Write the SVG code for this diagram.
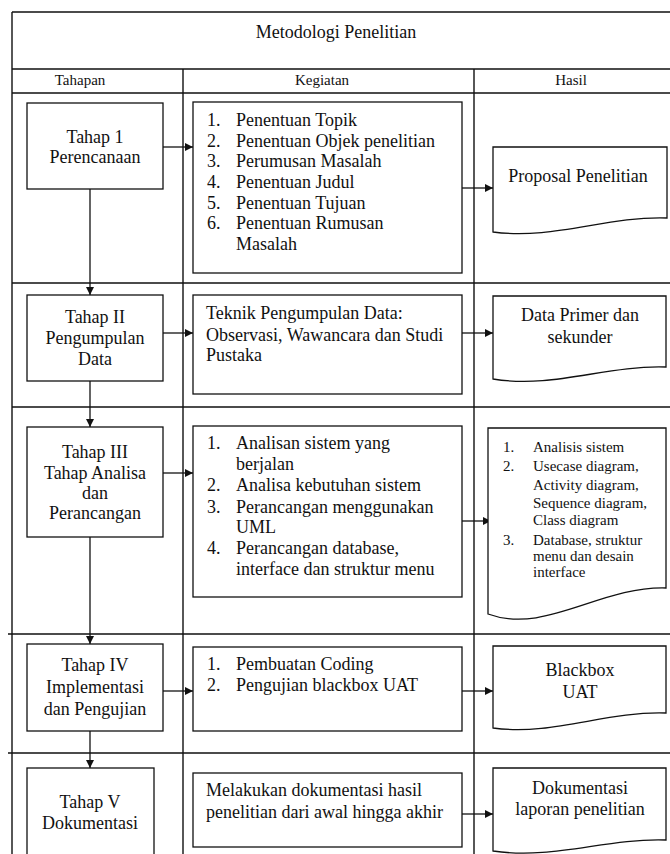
<svg xmlns="http://www.w3.org/2000/svg" width="670" height="854" viewBox="0 0 670 854">
  <style>
    .grid { stroke: #111; stroke-width: 1.4; fill: none; }
    .box { fill: #fff; stroke: #111; stroke-width: 1.3; }
    .t { font-family: "Liberation Serif", "Times New Roman", serif; font-size: 18px; fill: #111; }
    .c { text-anchor: middle; }
    .sm { font-size: 15px; }
    .title { font-size: 18px; }
    .hd { font-size: 15px; }
    .conn { stroke: #111; stroke-width: 1.3; fill: none; marker-end: url(#arrow); }
  </style>
  <defs>
    <marker id="arrow" markerUnits="userSpaceOnUse" markerWidth="10" markerHeight="10" refX="8" refY="4" orient="auto">
      <path d="M0,0 L8,4 L0,8 Z" fill="#111"/>
    </marker>
  </defs>

  <rect x="0" y="0" width="670" height="854" fill="#fff"/>

  <!-- table frame -->
  <g id="table">
    <path class="grid" d="M12,12 H672 M12,12 V856 M12,69 H672 M12,93 H672 M183,69 V856 M474,69 V856 M12,283 H672 M12,407 H672 M8,634 H672 M8,753 H672"/>
    <text class="t title c" x="336" y="38">Metodologi Penelitian</text>
    <text class="t hd c" x="80" y="85">Tahapan</text>
    <text class="t hd c" x="322" y="85">Kegiatan</text>
    <text class="t hd c" x="571" y="85">Hasil</text>
  </g>

  <!-- connectors -->
  <g id="connectors">
    <line class="conn" x1="163" y1="147" x2="193" y2="147"/>
    <line class="conn" x1="462" y1="188" x2="493" y2="188"/>
    <line class="conn" x1="90" y1="189" x2="90" y2="295"/>
    <line class="conn" x1="163" y1="333" x2="193" y2="333"/>
    <line class="conn" x1="462" y1="333" x2="493" y2="333"/>
    <line class="conn" x1="90" y1="381" x2="90" y2="427"/>
    <line class="conn" x1="163" y1="473" x2="193" y2="473"/>
    <line class="conn" x1="462" y1="521" x2="491" y2="521"/>
    <line class="conn" x1="90" y1="537" x2="90" y2="644"/>
    <line class="conn" x1="163" y1="691" x2="193" y2="691"/>
    <line class="conn" x1="462" y1="691" x2="493" y2="691"/>
    <line class="conn" x1="90" y1="731" x2="90" y2="768"/>
    <line class="conn" x1="462" y1="814" x2="493" y2="814"/>
  </g>

  <!-- Tahap 1 -->
  <g id="tahap1">
    <rect class="box" x="27" y="103" width="136" height="86"/>
    <text class="t c" x="95" y="143">Tahap 1</text>
    <text class="t c" x="95" y="163">Perencanaan</text>
  </g>
  <g id="kegiatan1">
    <rect class="box" x="193" y="102" width="269" height="171"/>
    <text class="t" x="207" y="126">1.</text><text class="t" x="236" y="126">Penentuan Topik</text>
    <text class="t" x="207" y="147">2.</text><text class="t" x="236" y="147">Penentuan Objek penelitian</text>
    <text class="t" x="207" y="167">3.</text><text class="t" x="236" y="167">Perumusan Masalah</text>
    <text class="t" x="207" y="188">4.</text><text class="t" x="236" y="188">Penentuan Judul</text>
    <text class="t" x="207" y="209">5.</text><text class="t" x="236" y="209">Penentuan Tujuan</text>
    <text class="t" x="207" y="229">6.</text><text class="t" x="236" y="229">Penentuan Rumusan</text>
    <text class="t" x="236" y="250">Masalah</text>
  </g>
  <g id="hasil1">
    <path class="box" d="M493,147 H667 V218 C606,216 554,240 493,232 Z"/>
    <text class="t c" x="578" y="182">Proposal Penelitian</text>
  </g>

  <!-- Tahap II -->
  <g id="tahap2">
    <rect class="box" x="27" y="295" width="136" height="86"/>
    <text class="t c" x="95" y="323">Tahap II</text>
    <text class="t c" x="95" y="344">Pengumpulan</text>
    <text class="t c" x="95" y="365">Data</text>
  </g>
  <g id="kegiatan2">
    <rect class="box" x="193" y="295" width="269" height="99"/>
    <text class="t" x="206" y="319">Teknik Pengumpulan Data:</text>
    <text class="t" x="206" y="341">Observasi, Wawancara dan Studi</text>
    <text class="t" x="206" y="361">Pustaka</text>
  </g>
  <g id="hasil2">
    <path class="box" d="M493,296 H666 V367 C605,365 554,389 493,379 Z"/>
    <text class="t c" x="580" y="321">Data Primer dan</text>
    <text class="t c" x="580" y="343">sekunder</text>
  </g>

  <!-- Tahap III -->
  <g id="tahap3">
    <rect class="box" x="27" y="427" width="136" height="110"/>
    <text class="t c" x="95" y="458">Tahap III</text>
    <text class="t c" x="95" y="479">Tahap Analisa</text>
    <text class="t c" x="95" y="499">dan</text>
    <text class="t c" x="95" y="519">Perancangan</text>
  </g>
  <g id="kegiatan3">
    <rect class="box" x="193" y="426" width="269" height="171"/>
    <text class="t" x="207" y="449">1.</text><text class="t" x="236" y="449">Analisan sistem yang</text>
    <text class="t" x="236" y="470">berjalan</text>
    <text class="t" x="207" y="491">2.</text><text class="t" x="236" y="491">Analisa kebutuhan sistem</text>
    <text class="t" x="207" y="513">3.</text><text class="t" x="236" y="513">Perancangan menggunakan</text>
    <text class="t" x="236" y="533">UML</text>
    <text class="t" x="207" y="554">4.</text><text class="t" x="236" y="554">Perancangan database,</text>
    <text class="t" x="236" y="575">interface dan struktur menu</text>
  </g>
  <g id="hasil3">
    <path class="box" d="M488,428 H666 V588 C600,586 545,635 488,614 Z"/>
    <text class="t sm" x="503" y="452">1.</text><text class="t sm" x="533" y="452">Analisis sistem</text>
    <text class="t sm" x="503" y="471">2.</text><text class="t sm" x="533" y="471">Usecase diagram,</text>
    <text class="t sm" x="533" y="490">Activity diagram,</text>
    <text class="t sm" x="533" y="508">Sequence diagram,</text>
    <text class="t sm" x="533" y="525">Class diagram</text>
    <text class="t sm" x="503" y="545">3.</text><text class="t sm" x="533" y="545">Database, struktur</text>
    <text class="t sm" x="533" y="561">menu dan desain</text>
    <text class="t sm" x="533" y="577">interface</text>
  </g>

  <!-- Tahap IV -->
  <g id="tahap4">
    <rect class="box" x="27" y="644" width="136" height="87"/>
    <text class="t c" x="95" y="671">Tahap IV</text>
    <text class="t c" x="95" y="693">Implementasi</text>
    <text class="t c" x="95" y="715">dan Pengujian</text>
  </g>
  <g id="kegiatan4">
    <rect class="box" x="193" y="647" width="269" height="84"/>
    <text class="t" x="207" y="670">1.</text><text class="t" x="236" y="670">Pembuatan Coding</text>
    <text class="t" x="207" y="691">2.</text><text class="t" x="236" y="691">Pengujian blackbox UAT</text>
  </g>
  <g id="hasil4">
    <path class="box" d="M493,646 H666 V713 C605,711 554,736 493,728 Z"/>
    <text class="t c" x="580" y="676">Blackbox</text>
    <text class="t c" x="580" y="698">UAT</text>
  </g>

  <!-- Tahap V -->
  <g id="tahap5">
    <rect class="box" x="27" y="768" width="127" height="100"/>
    <text class="t c" x="90" y="808">Tahap V</text>
    <text class="t c" x="90" y="829">Dokumentasi</text>
  </g>
  <g id="kegiatan5">
    <rect class="box" x="193" y="773" width="269" height="74"/>
    <text class="t" x="206" y="796">Melakukan dokumentasi hasil</text>
    <text class="t" x="206" y="818">penelitian dari awal hingga akhir</text>
  </g>
  <g id="hasil5">
    <path class="box" d="M493,768 H666 V840 C605,838 554,860 493,851 Z"/>
    <text class="t c" x="580" y="794">Dokumentasi</text>
    <text class="t c" x="580" y="815">laporan penelitian</text>
  </g>
</svg>
